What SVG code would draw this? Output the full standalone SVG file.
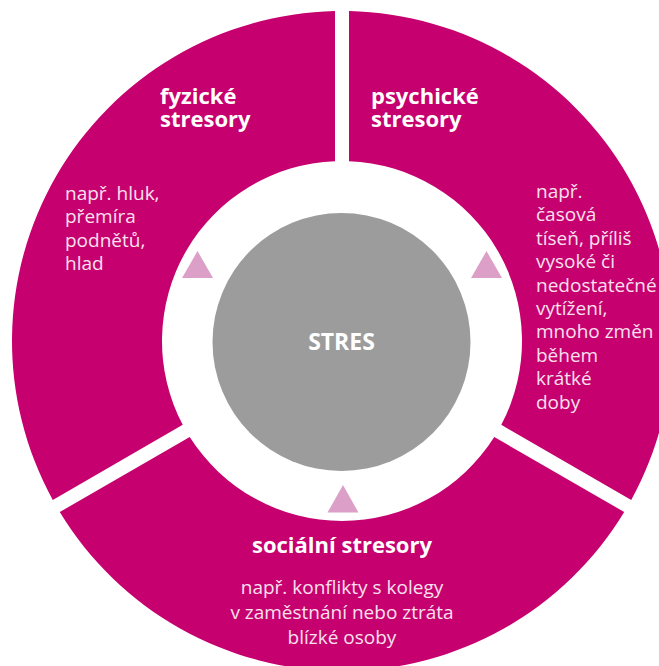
<svg xmlns="http://www.w3.org/2000/svg" width="659" height="666" viewBox="0 0 659 666">
<style>
.sector{fill:#C6006E}
.tri{fill:#DCA0C8}
.title{font-family:"Open Sans","Liberation Sans",sans-serif;font-weight:bold;font-size:22px;fill:#FFFFFF}
.body{font-family:"Open Sans","Liberation Sans",sans-serif;font-size:19px;fill:#F8E0EE}
.center{font-family:"Open Sans","Liberation Sans",sans-serif;font-weight:bold;font-size:23px;fill:#FFFFFF}
</style>
<rect x="0" y="0" width="659" height="666" fill="#FFFFFF"/>
<g id="fyzicke">
<path class="sector" d="M335,11.07 A330,330 0 0 0 52.78,499.90 L182.73,424.87 A180,180 0 0 1 335,161.14 Z"/>
<text class="title" x="160" y="104">fyzické<tspan x="160" dy="23">stresory</tspan></text>
<text class="body" x="65" y="200">např. hluk,<tspan x="65" dy="23.3">přemíra</tspan><tspan x="65" dy="23.3">podnětů,</tspan><tspan x="65" dy="23.3">hlad</tspan></text>
</g>
<g id="psychicke">
<path class="sector" d="M349,11.07 A330,330 0 0 1 631.22,499.90 L501.27,424.87 A180,180 0 0 0 349,161.14 Z"/>
<text class="title" x="371" y="104">psychické<tspan x="371" dy="23">stresory</tspan></text>
<text class="body" x="536" y="198">např.<tspan x="536" dy="23.4">časová</tspan><tspan x="536" dy="23.4">tíseň, příliš</tspan><tspan x="536" dy="23.4">vysoké či</tspan><tspan x="536" dy="23.4">nedostatečné</tspan><tspan x="536" dy="23.4">vytížení,</tspan><tspan x="536" dy="23.4">mnoho změn</tspan><tspan x="536" dy="23.4">během</tspan><tspan x="536" dy="23.4">krátké</tspan><tspan x="536" dy="23.4">doby</tspan></text>
</g>
<g id="socialni">
<path class="sector" d="M59.78,512.02 A330,330 0 0 0 624.22,512.02 L494.27,436.99 A180,180 0 0 1 189.73,436.99 Z"/>
<text class="title" x="342" y="553" text-anchor="middle">sociální stresory</text>
<text class="body" x="342" y="594" text-anchor="middle">např. konflikty s kolegy<tspan x="342" dy="25">v zaměstnání nebo ztráta</tspan><tspan x="342" dy="25">blízké osoby</tspan></text>
</g>
<g id="stres">
<circle cx="341.5" cy="342" r="129" fill="#9C9C9C"/>
<text class="center" x="341.5" y="350" text-anchor="middle">STRES</text>
</g>
<g id="connectors">
<polygon class="tri" points="197.5,251 182,278 213,278"/>
<polygon class="tri" points="486.5,251 471,278 502,278"/>
<polygon class="tri" points="343,485 327.5,512.5 358.5,512.5"/>
</g>
</svg>
